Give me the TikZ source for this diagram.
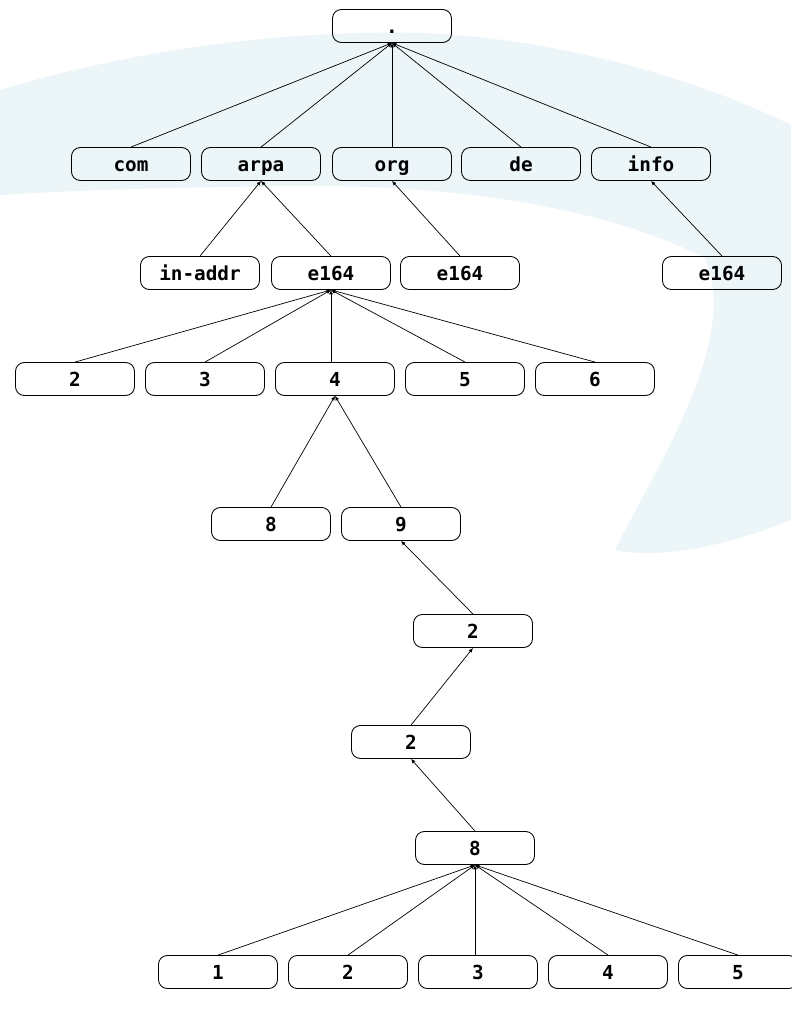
\documentclass[tikz,border=0pt]{standalone}
\usepackage{fontspec}
\setmonofont{DejaVu Sans Mono}
\usepackage{xcolor}
\usepackage{tikz}
\usetikzlibrary{arrows.meta}
\definecolor{swoosh}{RGB}{236,245,248}

\begin{document}
\begin{tikzpicture}[
	x=0.02cm, y=-0.02cm,
	font=\ttfamily\bfseries\fontsize{11pt}{13pt}\selectfont
]
\tikzset{
    dnsbox/.style = {rectangle, rounded corners=5pt, draw=black, line width=0.5pt, align=center, minimum width=2.38cm, minimum height=0.66cm, inner sep=0pt, text height=9pt, text depth=1pt},
    edge/.style = {line width=0.4pt, {Latex[length=2.5pt,width=2.2pt]}-}
}
\useasboundingbox (0,0) rectangle (791,1010);
% background band
\fill[swoosh] (0,90) .. controls (150,45) and (300,30) .. (420,33)
    .. controls (560,38) and (700,80) .. (791,125) -- (791,520)
    .. controls (730,545) and (660,560) .. (615,550)
    .. controls (660,460) and (740,340) .. (705,258)
    .. controls (600,205) and (450,185) .. (300,186)
    .. controls (180,187) and (80,190) .. (0,195) -- cycle;
\node[dnsbox] (root) at (392,26) {.};
\node[dnsbox] (com) at (131,164) {com};
\node[dnsbox] (arpa) at (261,164) {arpa};
\node[dnsbox] (org) at (392,164) {org};
\node[dnsbox] (de) at (521,164) {de};
\node[dnsbox] (info) at (651,164) {info};
\node[dnsbox] (inaddr) at (200,273) {in-addr};
\node[dnsbox] (arpae) at (331,273) {e164};
\node[dnsbox] (orge) at (460,273) {e164};
\node[dnsbox] (infoe) at (722,273) {e164};
\node[dnsbox] (n2) at (75,379) {2};
\node[dnsbox] (n3) at (205,379) {3};
\node[dnsbox] (n4) at (335,379) {4};
\node[dnsbox] (n5) at (465,379) {5};
\node[dnsbox] (n6) at (595,379) {6};
\node[dnsbox] (n48) at (271,524) {8};
\node[dnsbox] (n49) at (401,524) {9};
\node[dnsbox] (n492) at (473,631) {2};
\node[dnsbox] (n4922) at (411,742) {2};
\node[dnsbox] (n49228) at (475,848) {8};
\node[dnsbox] (m1) at (218,972) {1};
\node[dnsbox] (m2) at (348,972) {2};
\node[dnsbox] (m3) at (478,972) {3};
\node[dnsbox] (m4) at (608,972) {4};
\node[dnsbox] (m5) at (738,972) {5};
\foreach \c in {com,arpa,org,de,info}
    \draw[edge] (root.south) -- (\c.north);
\draw[edge] (arpa.south) -- (inaddr.north);
\draw[edge] (arpa.south) -- (arpae.north);
\draw[edge] (org.south) -- (orge.north);
\draw[edge] (info.south) -- (infoe.north);
\foreach \c in {n2,n3,n5,n6}
    \draw[edge] (arpae.south) -- (\c.north);
\draw[edge] (arpae.south) -- (arpae.south |- n4.north);
\draw[edge] (n4.south) -- (n48.north);
\draw[edge] (n4.south) -- (n49.north);
\draw[edge] (n49.south) -- (n492.north);
\draw[edge] (n492.south) -- (n4922.north);
\draw[edge] (n4922.south) -- (n49228.north);
\foreach \c in {m1,m2,m4,m5}
    \draw[edge] (n49228.south) -- (\c.north);
\draw[edge] (n49228.south) -- (n49228.south |- m3.north);
\end{tikzpicture}
\end{document}
